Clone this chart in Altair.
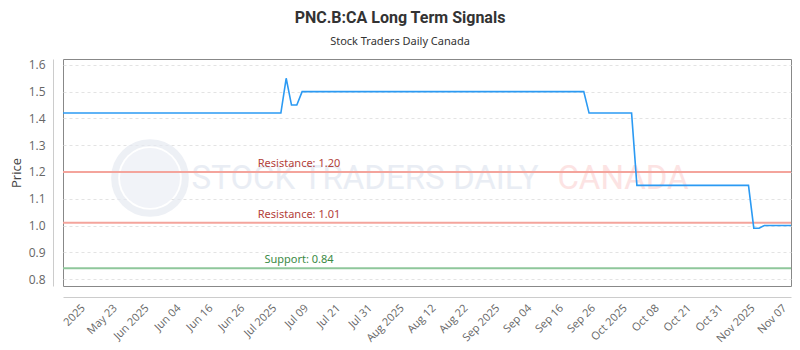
import altair as alt
import pandas as pd

# Price series (trading-day index, price)
day_idx = [0, 41, 42, 43, 44, 45, 98, 99, 107, 108, 129, 130, 131, 132, 137]
price = [1.42, 1.42, 1.55, 1.45, 1.45, 1.50, 1.50, 1.42, 1.42, 1.15, 1.15, 0.99, 0.99, 1.00, 1.00]

# Signal levels
level_labels = ["Resistance: 1.20", "Resistance: 1.01", "Support: 0.84"]
level_values = [1.20, 1.01, 0.84]
level_kind = ["Resistance", "Resistance", "Support"]

# X tick labels
tick_idx = [3 + 6 * k for k in range(23)]
tick_labels = ["2025", "May 23", "Jun 2025", "Jun 04", "Jun 16", "Jun 26", "Jul 2025",
               "Jul 09", "Jul 21", "Jul 31", "Aug 2025", "Aug 12", "Aug 22", "Sep 2025",
               "Sep 04", "Sep 16", "Sep 26", "Oct 2025", "Oct 08", "Oct 21", "Oct 31",
               "Nov 2025", "Nov 07"]
y_ticks = [0.8, 0.9, 1.0, 1.1, 1.2, 1.3, 1.4, 1.5, 1.6]

watermark_main = ["STOCK TRADERS DAILY"]
watermark_side = ["CANADA"]

series = pd.DataFrame({"idx": day_idx, "price": price})
levels = pd.DataFrame({"label": level_labels, "value": level_values, "kind": level_kind})

label_map = "[" + ",".join("'%s'" % s for s in tick_labels) + "]"
label_expr = label_map + "[round((datum.value - 3) / 6)]"

x_enc = alt.X(
    "idx:Q",
    scale=alt.Scale(domain=[0, 137], nice=False, zero=False),
    axis=alt.Axis(values=tick_idx, labelExpr=label_expr, labelAngle=-45, grid=False,
                  ticks=False, domainColor="#cccccc", offset=11, labelColor="#666666",
                  labelFont="Open Sans", labelFontSize=11, labelPadding=5, title=None,
                  labelOverlap=False),
)
y_scale = alt.Scale(domain=[0.774, 1.622], nice=False, zero=False)


def y_axis():
    return alt.Axis(values=y_ticks, format=".1f", grid=True, gridDash=[3, 3],
                    gridColor="#e3e3e3", ticks=False, domainColor="#cccccc", offset=10,
                    labelColor="#666666", labelFont="Open Sans", labelFontSize=12,
                    labelPadding=8, labelOverlap=False, labelBound=False,
                    title="Price", titleFont="Open Sans",
                    titleFontSize=13, titleFontWeight="normal", titleColor="#444444",
                    titlePadding=5)


# Watermark
logo_ring = alt.Chart(pd.DataFrame({"k": [0]})).mark_point(
    shape="circle", size=5000, filled=False, stroke="#e6eaf2", strokeWidth=7
).encode(x=alt.value(87), y=alt.value(119))
logo_fill = alt.Chart(pd.DataFrame({"k": [0]})).mark_point(
    shape="circle", size=3600, filled=True, color="#f1f3f8", opacity=1
).encode(x=alt.value(87), y=alt.value(119))
wm1 = alt.Chart(pd.DataFrame({"t": watermark_main})).mark_text(
    font="Roboto", fontSize=33, color="#e9edf4", align="center", baseline="middle"
).encode(text="t:N", x=alt.value(302), y=alt.value(120))
wm2 = alt.Chart(pd.DataFrame({"t": watermark_side})).mark_text(
    font="Roboto", fontSize=33, color="#fce3e3", align="center", baseline="middle"
).encode(text="t:N", x=alt.value(560), y=alt.value(120))

color_scale = alt.Scale(domain=["Resistance", "Support"], range=["#f4a49c", "#8fc79b"])
text_scale = alt.Scale(domain=["Resistance", "Support"], range=["#b3413a", "#3b8a45"])

rules = alt.Chart(levels).mark_rule(strokeWidth=2).encode(
    y=alt.Y("value:Q", scale=y_scale, axis=y_axis()),
    color=alt.Color("kind:N", scale=color_scale, legend=None),
)
rule_text = alt.Chart(levels).mark_text(
    font="Noto Sans", fontSize=11, align="center", baseline="bottom", dy=-3
).encode(
    y=alt.Y("value:Q", scale=y_scale, axis=y_axis()),
    x=alt.value(236),
    text="label:N",
    color=alt.Color("kind:N", scale=text_scale, legend=None),
)

line = alt.Chart(series).mark_line(color="#2b9af3", strokeWidth=1.6).encode(
    x=x_enc, y=alt.Y("price:Q", scale=y_scale, axis=y_axis())
)

chart = alt.layer(logo_fill, logo_ring, wm1, wm2, rules, line, rule_text).resolve_scale(
    color="independent"
).properties(
    width=728,
    height=227,
    padding={"left": 63, "top": 59, "right": 9, "bottom": 64},
    autosize=alt.AutoSizeParams(type="none"),
    title=alt.TitleParams(
        "PNC.B:CA Long Term Signals",
        subtitle="Stock Traders Daily Canada",
        anchor="middle",
        dx=-27,
        font="Roboto",
        fontSize=16,
        fontWeight="bold",
        color="#333333",
        subtitleFont="Noto Sans",
        subtitleFontSize=11,
        subtitleColor="#333333",
        subtitlePadding=10,
        offset=12,
    ),
).configure_view(stroke="#888888", strokeWidth=1)

chart.save("out.html", embed_options={"renderer": "svg", "actions": False})
